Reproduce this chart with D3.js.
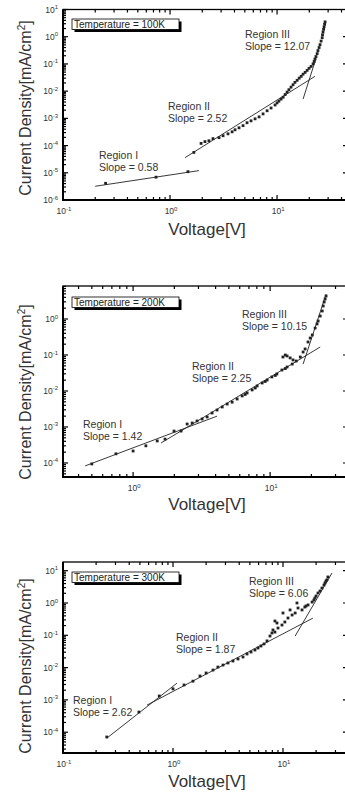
<!DOCTYPE html>
<html lang="en">
<head>
<meta charset="UTF-8" />
<title>J-V at 100K / 200K / 300K</title>
<script src="https://d3js.org/d3.v7.min.js"></script>
<style>
  body { margin: 0; background: #fff; }
  svg { display: block; font-family: Arial, 'Liberation Sans', sans-serif; }
  .tick { fill: #333; font-size: 8.5px; }
  .note { fill: #333; font-size: 10.5px; }
  .axlbl { fill: #333; }
</style>
</head>
<body>
<svg id="chart" width="345" height="794"></svg>
<script>
// ---- 100K ----
const v100 = [0.25, 0.74, 1.47, 1.67, 1.95, 2.12, 2.31, 2.52, 2.87, 3.13, 3.48, 3.8, 4.05, 4.41, 4.81, 5.24, 5.71, 6.23, 6.79, 7.4,
  8.07, 8.79, 9.58, 10.0, 10.4, 10.9, 11.4, 11.9, 12.4, 12.9, 13.5, 14.1, 14.7, 15.4, 16.1, 16.8, 17.5, 18.3, 19.1, 19.9,
  20.8, 21.7, 22.2, 22.6, 23.1, 23.7, 24.1, 24.7, 25.2, 25.8, 26.4, 26.6, 26.9, 27.2, 27.5, 27.8, 28.1];
const j100 = [4.1e-6, 6.9e-6, 1.1e-5, 5.6e-5, 1.2e-4, 1.4e-4, 1.5e-4, 1.8e-4, 1.95e-4, 2.3e-4, 2.7e-4, 3.2e-4, 3.8e-4, 4.5e-4, 5.4e-4, 6.9e-4, 8.1e-4, 9.6e-4, 1.13e-3, 1.46e-3,
  1.9e-3, 2.4e-3, 3.1e-3, 3.7e-3, 4.3e-3, 5.1e-3, 6.0e-3, 7.5e-3, 9.2e-3, 1.13e-2, 1.4e-2, 1.72e-2, 2.1e-2, 2.5e-2, 3.0e-2, 3.5e-2, 4.2e-2, 4.9e-2, 5.8e-2, 6.9e-2,
  8.1e-2, 0.1, 0.123, 0.152, 0.187, 0.24, 0.31, 0.40, 0.51, 0.69, 0.92, 1.18, 1.5, 1.87, 2.3, 2.85, 3.5];
// fit lines: [V1, J1, V2, J2]
const fit100 = [[0.2, 3.2e-6, 1.86, 1.2e-5], [1.38, 3.6e-5, 22.6, 0.035], [17.5, 5.1e-3, 23.1, 0.16]];
const slope100 = ["0.58", "2.52", "12.07"];

// ---- 200K ----
const v200 = [0.50, 0.75, 1.0, 1.24, 1.50, 1.71, 1.99, 2.24, 2.48, 2.70, 2.93, 3.19, 3.47, 3.77, 4.10, 4.47, 4.86, 5.28, 5.74, 6.25,
  6.57, 6.79, 7.39, 7.78, 8.04, 8.75, 9.2, 9.51, 10.3, 10.9, 11.2, 12.2, 12.9, 13.3, 14.5, 15.5, 12.4, 12.9, 13.3, 14.0,
  14.7, 16.6, 17.4, 18.0, 18.9, 19.6, 20.3, 21.3, 22.0, 22.4, 23.2, 24.0, 24.4, 24.8, 25.2, 25.6];
const j200 = [9.4e-5, 1.8e-4, 2.15e-4, 3.0e-4, 4.1e-4, 4.6e-4, 7.7e-4, 7.7e-4, 1.21e-3, 1.29e-3, 1.47e-3, 1.67e-3, 1.9e-3, 2.45e-3, 2.96e-3, 3.6e-3, 4.35e-3, 4.9e-3, 6.0e-3, 7.3e-3,
  8.0e-3, 8.8e-3, 1.07e-2, 1.21e-2, 1.38e-2, 1.67e-2, 1.84e-2, 2.02e-2, 2.45e-2, 2.7e-2, 2.97e-2, 3.83e-2, 4.2e-2, 4.64e-2, 5.6e-2, 6.8e-2, 8.8e-2, 0.1, 9.4e-2, 8.3e-2,
  7.3e-2, 8.8e-2, 0.121, 0.147, 0.23, 0.296, 0.36, 0.56, 0.73, 0.88, 1.21, 1.67, 2.3, 2.97, 3.6, 4.35];
const fit200 = [[0.447, 8.3e-5, 4.1, 2.0e-3], [1.6, 3.6e-4, 23.2, 0.167], [17.4, 0.056, 25.6, 4.9]];
const slope200 = ["1.42", "2.25", "10.15"];

// ---- 300K ----
const v300 = [0.25, 0.49, 0.75, 1.0, 1.26, 1.52, 1.76, 2.0, 2.31, 2.56, 2.85, 3.16, 3.51, 3.9, 4.33, 4.71, 5.12, 5.56, 5.93, 6.31,
  6.72, 7.16, 7.62, 7.94, 8.11, 8.45, 8.45, 8.82, 9.01, 9.79, 10.0, 10.4, 11.1, 11.6, 12.1, 12.9, 13.4, 13.7, 14.9, 15.8,
  16.2, 16.9, 18.4, 19.1, 19.5, 20.0, 20.8, 21.7, 22.6, 23.6, 24.1, 24.6, 25.1, 25.6];
const j300 = [7.1e-5, 4.2e-4, 1.32e-3, 2.2e-3, 2.9e-3, 3.8e-3, 5.5e-3, 6.8e-3, 8.4e-3, 1.04e-2, 1.2e-2, 1.39e-2, 1.6e-2, 1.85e-2, 2.13e-2, 2.64e-2, 3.04e-2, 3.5e-2, 4.05e-2, 4.67e-2,
  5.4e-2, 6.7e-2, 9.5e-2, 0.118, 0.146, 0.126, 0.277, 0.24, 0.168, 0.208, 0.49, 0.258, 0.343, 0.61, 0.425, 0.49, 1.0, 0.70, 0.61, 0.75,
  0.81, 0.87, 1.07, 1.24, 1.43, 1.65, 2.04, 2.35, 2.9, 3.6, 4.2, 4.8, 5.2, 6.4];
const fit300 = [[0.251, 6.6e-5, 1.087, 3.3e-3], [0.58, 6.9e-4, 18.7, 0.34], [12.9, 0.095, 27.9, 8.5]];
const slope300 = ["2.62", "1.87", "6.06"];

// decade labels on the axes (exponents of 10)
const xExp100 = [-1, 0, 1], yExp100 = [-6, -5, -4, -3, -2, -1, 0, 1];
const xExp200 = [0, 1],     yExp200 = [-4, -3, -2, -1, 0];
const xExp300 = [-1, 0, 1], yExp300 = [-4, -3, -2, -1, 0, 1];

const regions = ["Region I", "Region II", "Region III"];

// layout per panel (pixels)
const panels = [
  { temp: "100K", v: v100, j: j100, fits: fit100, slopes: slope100, xExp: xExp100, yExp: yExp100,
    xDom: [0.1, 46], yDom: [1e-6, 10], top: 9.5, bottom: 200,
    notes: [[99, 158.5], [168, 110], [245, 38]], box: [72, 19], ylabY: 108, xlabY: 235 },
  { temp: "200K", v: v200, j: j200, fits: fit200, slopes: slope200, xExp: xExp200, yExp: yExp200,
    xDom: [0.308, 37], yDom: [4.08e-5, 8.26], top: 286, bottom: 477,
    notes: [[83, 427.5], [192, 369.5], [242, 317.5]], box: [72, 297], ylabY: 392, xlabY: 510 },
  { temp: "300K", v: v300, j: j300, fits: fit300, slopes: slope300, xExp: xExp300, yExp: yExp300,
    xDom: [0.1, 39], yDom: [2.27e-5, 18.6], top: 562, bottom: 753,
    notes: [[73, 703.5], [176, 640.5], [249, 584.5]], box: [72, 572], ylabY: 666, xlabY: 787 }
];

const L = 63, R = 348;
const svg = d3.select("#chart");

function logTicks(dom) {
  const lo = Math.floor(Math.log10(dom[0])), hi = Math.ceil(Math.log10(dom[1]));
  const major = [], minor = [];
  for (let e = lo; e <= hi; e++) {
    for (let k = 1; k < 10; k++) {
      const v = k * Math.pow(10, e);
      if (v < dom[0] * 0.999 || v > dom[1] * 1.001) continue;
      (k === 1 ? major : minor).push(v);
    }
  }
  return { major, minor };
}

panels.forEach(p => {
  const x = d3.scaleLog().domain(p.xDom).range([L, R]);
  const y = d3.scaleLog().domain(p.yDom).range([p.bottom, p.top]);
  const g = svg.append("g");

  // fit lines
  g.selectAll("line.fit").data(p.fits).join("line").attr("class", "fit")
    .attr("x1", d => x(d[0])).attr("y1", d => y(d[1]))
    .attr("x2", d => x(d[2])).attr("y2", d => y(d[3]))
    .attr("stroke", "#222").attr("stroke-width", 0.9);

  // data points
  g.selectAll("rect.pt").data(d3.zip(p.v, p.j)).join("rect").attr("class", "pt")
    .attr("x", d => x(d[0]) - 1.4).attr("y", d => y(d[1]) - 1.4)
    .attr("width", 2.8).attr("height", 2.8)
    .attr("fill", "#222");

  // ticks
  const xt = logTicks(p.xDom), yt = logTicks(p.yDom);
  const tick = (vals, len, horiz) => {
    vals.forEach(v => {
      if (horiz) {
        const py = y(v);
        g.append("line").attr("x1", L).attr("x2", L + len).attr("y1", py).attr("y2", py).attr("stroke", "#000").attr("stroke-width", 1.2);
        g.append("line").attr("x1", R).attr("x2", R - len).attr("y1", py).attr("y2", py).attr("stroke", "#000").attr("stroke-width", 1.2);
      } else {
        const px = x(v);
        g.append("line").attr("x1", px).attr("x2", px).attr("y1", p.bottom).attr("y2", p.bottom - len).attr("stroke", "#000").attr("stroke-width", 1.2);
        g.append("line").attr("x1", px).attr("x2", px).attr("y1", p.top).attr("y2", p.top + len).attr("stroke", "#000").attr("stroke-width", 1.2);
      }
    });
  };
  tick(yt.major, 5, true); tick(yt.minor, 3, true);
  tick(xt.major, 5, false); tick(xt.minor, 3, false);

  // frame
  g.append("rect").attr("x", L).attr("y", p.top).attr("width", R - L).attr("height", p.bottom - p.top)
    .attr("fill", "none").attr("stroke", "#000").attr("stroke-width", 1.3);
  g.append("line").attr("x1", L).attr("x2", L).attr("y1", p.top).attr("y2", p.bottom + 1).attr("stroke", "#000").attr("stroke-width", 2);
  g.append("line").attr("x1", L - 1).attr("x2", R).attr("y1", p.bottom).attr("y2", p.bottom).attr("stroke", "#000").attr("stroke-width", 2);

  // tick labels
  p.yExp.forEach(e => {
    const t = g.append("text").attr("class", "tick").attr("x", 58).attr("y", y(Math.pow(10, e)) + 3).attr("text-anchor", "end");
    t.append("tspan").text("10");
    t.append("tspan").attr("dy", -3.5).attr("font-size", 6).text(e);
  });
  p.xExp.forEach(e => {
    const t = g.append("text").attr("class", "tick").attr("x", x(Math.pow(10, e)) + 1).attr("y", p.bottom + 14).attr("text-anchor", "middle");
    t.append("tspan").text("10");
    t.append("tspan").attr("dy", -3.5).attr("font-size", 6).text(e);
  });

  // region notes
  p.notes.forEach((n, i) => {
    g.append("text").attr("class", "note").attr("x", n[0]).attr("y", n[1]).text(regions[i]);
    g.append("text").attr("class", "note").attr("x", n[0]).attr("y", n[1] + 12).text("Slope = " + p.slopes[i]);
  });

  // temperature box
  const [bx, by] = p.box;
  g.append("rect").attr("x", bx + 2.5).attr("y", by + 2.5).attr("width", 107).attr("height", 10.5).attr("fill", "#000");
  g.append("rect").attr("x", bx).attr("y", by).attr("width", 107).attr("height", 10.5)
    .attr("fill", "#fff").attr("stroke", "#000").attr("stroke-width", 0.8);
  g.append("text").attr("x", bx + 2).attr("y", by + 8.5).attr("font-size", 10).attr("fill", "#222")
    .text("Temperature = " + p.temp);

  // axis titles
  const yl = g.append("text").attr("class", "axlbl").attr("font-size", 16).attr("text-anchor", "middle")
    .attr("transform", `translate(31,${p.ylabY}) rotate(-90)`);
  yl.append("tspan").text("Current Density[mA/cm");
  yl.append("tspan").attr("dy", -6).attr("font-size", 10).text("2");
  yl.append("tspan").attr("dy", 6).text("]");

  g.append("text").attr("class", "axlbl").attr("font-size", 17).attr("text-anchor", "middle")
    .attr("x", 207).attr("y", p.xlabY).text("Voltage[V]");
});
</script>
</body>
</html>
